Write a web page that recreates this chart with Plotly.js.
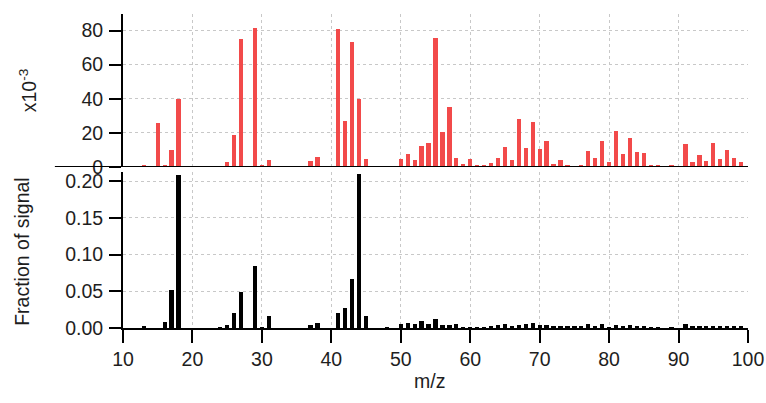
<!DOCTYPE html>
<html>
<head>
<meta charset="utf-8">
<script src="https://cdn.plot.ly/plotly-3.0.1.min.js"></script>
<style>html,body{margin:0;padding:0;background:#fff;}#chart{width:766px;height:403px;}</style>
</head>
<body>
<div id="chart"></div>
<script>
// Top panel (x10^-3)
const mzTop = [13,15,16,17,18,25,26,27,29,30,31,37,38,41,42,43,44,45,48,49,50,51,52,53,54,55,56,57,58,59,60,61,62,63,64,65,66,67,68,69,70,71,72,73,74,75,76,77,78,79,80,81,82,83,84,85,86,87,89,91,92,93,94,95,96,97,98,99];
const valsTop = [1,26,1,10,40,3,19,75,81.5,1.4,4,3.5,6,81,27,73.3,39.7,4.7,0.3,0.3,4.5,7.4,3.9,12.5,13.9,75.5,20.7,35.4,5.5,1.8,4.5,1.4,1.2,2.5,5,11.5,3.9,28,11.3,26.2,10.6,15.2,1.6,4.1,1.4,0.8,1,9.6,5.1,15.2,2.7,21.1,7.6,17.2,8.6,8.2,1.2,1.2,1.4,13.5,3.1,7,3.7,13.9,4.7,10.2,5.1,2.7];
// Bottom panel (fraction of signal)
const mzBot = [13,16,17,18,24,25,26,27,29,30,31,37,38,41,42,43,44,45,48,50,51,52,53,54,55,56,57,58,59,60,61,62,63,64,65,66,67,68,69,70,71,72,73,74,75,76,77,78,79,80,81,82,83,84,85,86,87,89,91,92,93,94,95,96,97,98,99];
const valsBot = [0.003,0.0077,0.052,0.209,0.002,0.0036,0.021,0.0486,0.0845,0.002,0.0163,0.0036,0.0068,0.020,0.0277,0.0663,0.21,0.0168,0.001,0.0059,0.0068,0.005,0.01,0.0054,0.0118,0.0045,0.004,0.0054,0.002,0.002,0.001,0.001,0.003,0.0036,0.0059,0.003,0.0036,0.005,0.0063,0.0036,0.0036,0.003,0.003,0.003,0.003,0.003,0.005,0.003,0.005,0.002,0.004,0.003,0.004,0.003,0.003,0.002,0.002,0.002,0.006,0.003,0.003,0.003,0.003,0.003,0.003,0.003,0.003];
const xTicks = [10,20,30,40,50,60,70,80,90,100];
const topTicks = [0,20,40,60,80];
const botTicks = [0,0.05,0.10,0.15,0.20];
const botTickText = ['0.00','0.05','0.10','0.15','0.20'];
const xTitle = 'm/z';
const topTitle = 'x10<sup>-3</sup>';
const botTitle = 'Fraction of signal';

const fnt = {family: 'Liberation Sans, Arial, sans-serif', size: 19.5, color: '#1e1e1e'};
const grid = {showgrid: true, gridcolor: '#c8c8c8', griddash: 'dot', gridwidth: 1};

const data = [
  {type: 'bar', x: mzTop, y: valsTop, xaxis: 'x2', yaxis: 'y2', width: 0.62,
   marker: {color: '#f24a4a', line: {width: 0}}, hoverinfo: 'x+y'},
  {type: 'bar', x: mzBot, y: valsBot, xaxis: 'x', yaxis: 'y', width: 0.62,
   marker: {color: '#000000', line: {width: 0}}, hoverinfo: 'x+y'}
];

const layout = {
  width: 766, height: 403,
  margin: {l: 123, r: 18, t: 14, b: 75},
  paper_bgcolor: '#fff', plot_bgcolor: '#fff',
  showlegend: false, bargap: 0,
  font: fnt,
  xaxis: Object.assign({
    domain: [0, 1], range: [10, 100], anchor: 'y',
    tickvals: xTicks, ticks: 'outside', ticklen: 13, tickwidth: 2, tickcolor: '#000',
    showline: true, linecolor: '#000', linewidth: 2, zeroline: false,
    tickfont: fnt
  }, grid),
  xaxis2: Object.assign({
    domain: [0, 1], range: [10, 100], anchor: 'y2', matches: 'x',
    tickvals: xTicks, showticklabels: false, ticks: '',
    showline: false, zeroline: false
  }, grid),
  yaxis: Object.assign({
    domain: [0, 0.4968], range: [0, 0.2125], anchor: 'x',
    tickvals: botTicks, ticktext: botTickText, ticks: 'outside', ticklen: 12, tickwidth: 2, tickcolor: '#000',
    ticklabelstandoff: 2,
    showline: true, linecolor: '#000', linewidth: 2, zeroline: false,
    tickfont: fnt
  }, grid),
  yaxis2: Object.assign({
    domain: [0.5127, 1], range: [0, 89.7], anchor: 'x2',
    tickvals: topTicks, ticks: 'outside', ticklen: 12, tickwidth: 2, tickcolor: '#000',
    ticklabelstandoff: 2,
    showline: true, linecolor: '#000', linewidth: 2, zeroline: false,
    tickfont: fnt
  }, grid),
  annotations: [
    {text: xTitle, xref: 'paper', yref: 'paper', x: 0.49, y: -0.169, xanchor: 'center', yanchor: 'middle',
     showarrow: false, font: fnt},
    {text: botTitle, xref: 'paper', yref: 'paper', x: -0.162, y: 0.245, xanchor: 'center', yanchor: 'middle',
     textangle: -90, showarrow: false, font: fnt},
    {text: topTitle, xref: 'paper', yref: 'paper', x: -0.152, y: 0.757, xanchor: 'center', yanchor: 'middle',
     textangle: -90, showarrow: false, font: fnt}
  ],
  shapes: [
    {type: 'line', xref: 'paper', yref: 'y2', x0: -0.109, x1: 1, y0: 0, y1: 0,
     line: {color: '#000', width: 2}, layer: 'above'}
  ]
};

Plotly.newPlot('chart', data, layout, {displayModeBar: false, staticPlot: true});
</script>
</body>
</html>
